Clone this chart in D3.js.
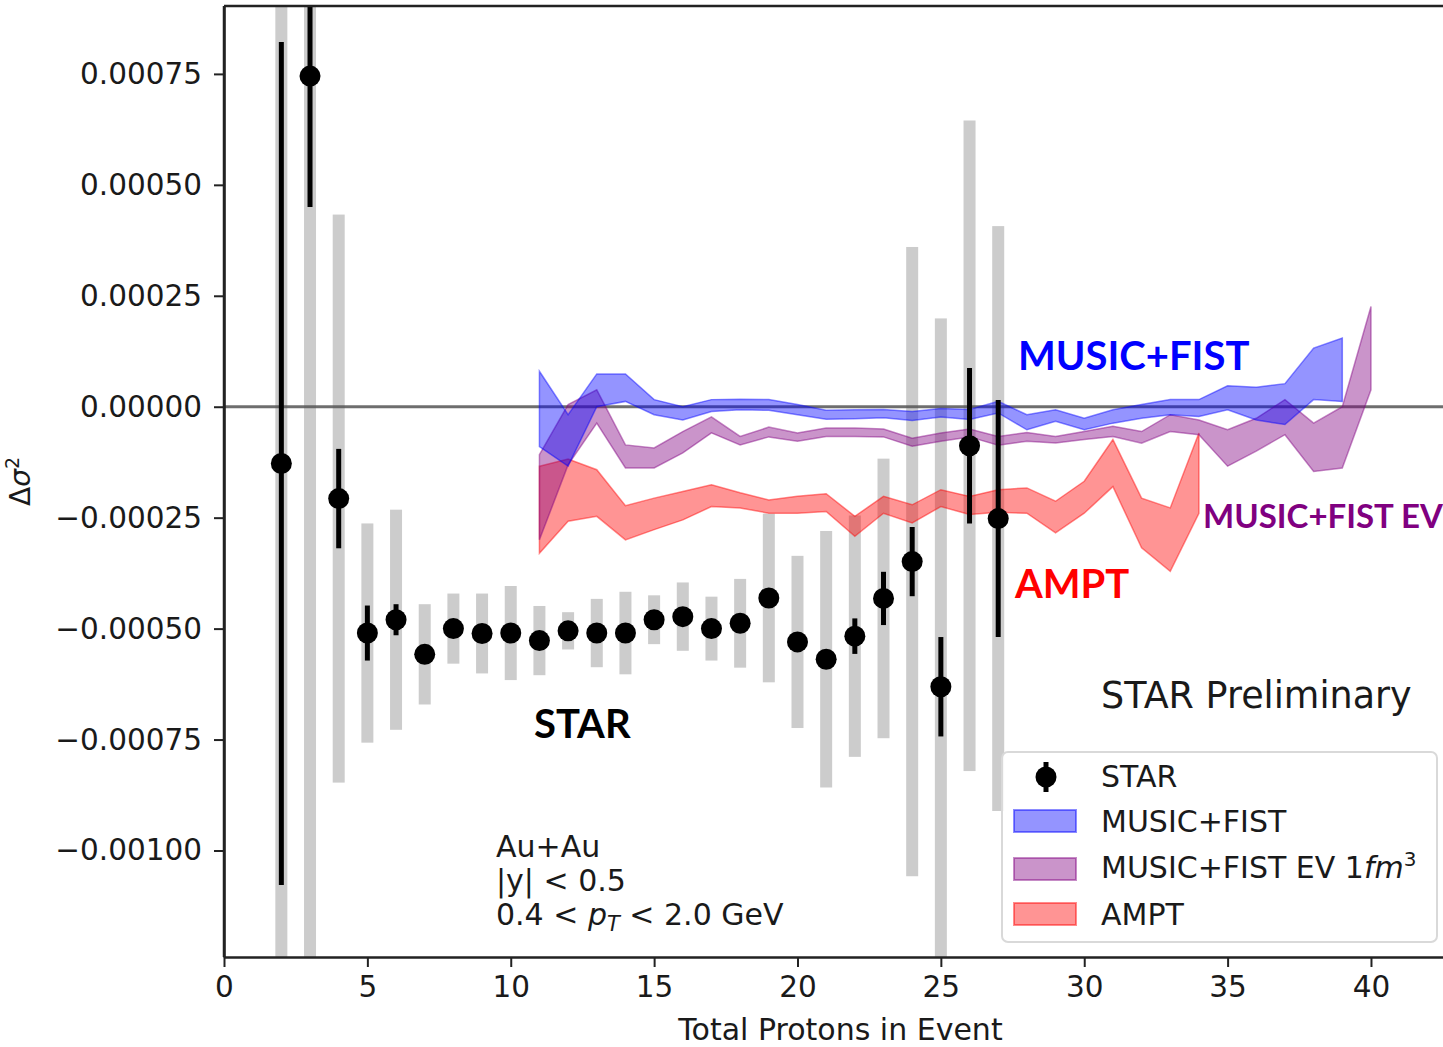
<!DOCTYPE html>
<html>
<head>
<meta charset="utf-8">
<script src="https://cdn.jsdelivr.net/npm/d3@7"></script>
<style>
  body { margin: 0; background: #fff; }
  svg { display: block; }
</style>
</head>
<body>
<svg id="chart" width="1443" height="1047"></svg>
<script>
// STAR data points
var starN    = [2, 3, 4, 5, 6, 7, 8, 9, 10, 11, 12, 13, 14, 15, 16, 17, 18, 19, 20, 21, 22, 23, 24, 25, 26, 27];
var starVal  = [-0.000128, 0.000745, -0.000207, -0.000510, -0.000480, -0.000558, -0.000500, -0.000511, -0.000510, -0.000527,
                -0.000505, -0.000510, -0.000510, -0.000480, -0.000473, -0.000500, -0.000488, -0.000431, -0.000530, -0.000569,
                -0.000517, -0.000432, -0.000349, -0.000631, -0.000088, -0.000252];
var starStat = [0.00095, 0.000295, 0.000112, 0.000062, 0.000035, 0.00001, 0.00001, 0.00001, 0.00001, 0.00001,
                0.00001, 0.00001, 0.00001, 0.00001, 0.00001, 0.00001, 0.00001, 0.00001, 0.00001, 0.000012,
                0.00004, 0.00006, 0.000078, 0.000112, 0.000175, 0.000267];
var starSys  = [0.0013, 0.0021, 0.00064, 0.000247, 0.000248, 0.000113, 0.000079, 0.00009, 0.000106, 0.000078,
                0.000042, 0.000077, 0.000093, 0.000055, 0.000077, 0.000072, 0.0001, 0.00019, 0.000194, 0.000289,
                0.000272, 0.000315, 0.000709, 0.00083, 0.000733, 0.000659];

// MUSIC+FIST band
var musicN  = [11, 12, 13, 14, 15, 16, 17, 18, 19, 20, 21, 22, 23, 24, 25, 26, 27, 28, 29, 30, 31, 32, 33, 34, 35, 36, 37, 38, 39];
var musicHi = [0.00008, -0.000018, 0.000074, 0.000074, 0.000016, 0.0, 0.000016, 0.000017, 0.000016, 0.000005,
               -0.000008, -0.000007, -0.000006, -0.000011, -0.000004, -0.000006, 0.000012, -0.000018, -0.000007, -0.000026,
               -0.000007, 0.000005, 0.000016, 0.000016, 0.000047, 0.000044, 0.000052, 0.000132, 0.000155];
var musicLo = [-0.00009, -0.000134, 0.0, 0.000012, -0.000018, -0.00003, -0.000011, -0.000007, -0.000008, -0.000018,
               -0.000028, -0.000027, -0.000025, -0.000031, -0.000023, -0.000029, -0.000014, -0.000052, -0.000033, -0.000052,
               -0.000037, -0.000026, -0.000018, -0.000022, -0.000007, -0.00003, -0.00004, 0.000016, 0.000012];

// MUSIC+FIST EV 1fm^3 band
var evN  = [11, 12, 13, 14, 15, 16, 17, 18, 19, 20, 21, 22, 23, 24, 25, 26, 27, 28, 29, 30, 31, 32, 33, 34, 35, 36, 37, 38, 39, 40];
var evHi = [-0.000108, 0.000005, 0.000038, -0.000086, -0.000093, -0.000056, -0.000023, -0.000067, -0.000046, -0.000059,
            -0.000048, -0.000048, -0.00005, -0.000071, -0.000059, -0.00005, -0.000067, -0.000058, -0.000067, -0.000056,
            -0.000044, -0.000056, -0.000018, -0.00003, -0.000052, -0.000026, 0.000016, -0.000037, 0.0, 0.000226];
var evLo = [-0.0003, -0.000131, -0.000037, -0.000138, -0.000138, -0.000104, -0.000059, -0.000086, -0.000068, -0.000078,
            -0.000067, -0.000067, -0.000068, -0.000089, -0.000078, -0.000068, -0.000087, -0.000078, -0.000082, -0.000074,
            -0.000067, -0.000082, -0.000056, -0.000063, -0.000134, -0.0001, -0.000063, -0.000146, -0.000138, 0.000038];

// AMPT band
var amptN  = [11, 12, 13, 14, 15, 16, 17, 18, 19, 20, 21, 22, 23, 24, 25, 26, 27, 28, 29, 30, 31, 32, 33, 34];
var amptHi = [-0.000134, -0.000118, -0.000142, -0.000223, -0.000206, -0.000191, -0.000176, -0.000194, -0.00021, -0.000202,
              -0.000196, -0.000247, -0.000202, -0.000221, -0.000187, -0.000202, -0.000187, -0.000183, -0.000213, -0.000168,
              -0.000074, -0.000206, -0.000228, -0.000059];
var amptLo = [-0.00033, -0.000258, -0.000247, -0.0003, -0.000277, -0.000255, -0.000225, -0.000228, -0.00024, -0.00024,
              -0.000236, -0.000292, -0.00024, -0.000262, -0.000225, -0.000243, -0.000238, -0.00024, -0.000284, -0.00024,
              -0.00018, -0.000318, -0.000371, -0.00024];

var xTicks = [0, 5, 10, 15, 20, 25, 30, 35, 40];
var yTicks = [0.00075, 0.0005, 0.00025, 0, -0.00025, -0.0005, -0.00075, -0.001];

var bands = [
	{ name: "AMPT", n: amptN, lo: amptLo, hi: amptHi, color: "#ff0000" },
	{ name: "MUSIC+FIST EV", n: evN, lo: evLo, hi: evHi, color: "#800080" },
	{ name: "MUSIC+FIST", n: musicN, lo: musicLo, hi: musicHi, color: "#0000ff" }
];

// plot box (careful: "top" is a reserved window property)
var pLeft = 224, pRight = 1457, pTop = 6, pBottom = 957;
var tickFont = "DejaVu Sans, sans-serif";

var svg = d3.select("#chart");
svg.append("rect").attr("width", 1443).attr("height", 1047).attr("fill", "white");

var x = d3.scaleLinear().domain([0, 43]).range([pLeft, pRight]);
var y = d3.scaleLinear().domain([-0.00124, 0.000903]).range([pBottom, pTop]);

svg.append("clipPath").attr("id", "plotclip")
	.append("rect").attr("x", pLeft).attr("y", pTop).attr("width", pRight - pLeft).attr("height", pBottom - pTop);

var plot = svg.append("g").attr("clip-path", "url(#plotclip)");

var starData = starN.map(function(n, i) {
	return { n: n, v: starVal[i], stat: starStat[i], sys: starSys[i] };
});

// systematic error boxes
plot.selectAll(".sys").data(starData).enter().append("rect")
	.attr("class", "sys")
	.attr("x", function(d) { return x(d.n) - 6; })
	.attr("width", 12)
	.attr("y", function(d) { return y(d.v + d.sys); })
	.attr("height", function(d) { return y(d.v - d.sys) - y(d.v + d.sys); })
	.attr("fill", "#cccccc");

// zero line
plot.append("line")
	.attr("x1", pLeft).attr("x2", pRight)
	.attr("y1", y(0)).attr("y2", y(0))
	.style("stroke", "#555").style("stroke-width", 3).style("stroke-opacity", 0.85);

// model bands
bands.forEach(function(b) {
	var pts = b.n.map(function(n, i) { return { n: n, lo: b.lo[i], hi: b.hi[i] }; });
	var area = d3.area()
		.x(function(d) { return x(d.n); })
		.y0(function(d) { return y(d.lo); })
		.y1(function(d) { return y(d.hi); });
	plot.append("path").datum(pts)
		.attr("d", area)
		.style("fill", b.color).style("fill-opacity", 0.42)
		.style("stroke", b.color).style("stroke-opacity", 0.45).style("stroke-width", 1.5);
});

// statistical error bars + markers
plot.selectAll(".stat").data(starData).enter().append("line")
	.attr("class", "stat")
	.attr("x1", function(d) { return x(d.n); })
	.attr("x2", function(d) { return x(d.n); })
	.attr("y1", function(d) { return y(d.v + d.stat); })
	.attr("y2", function(d) { return y(d.v - d.stat); })
	.style("stroke", "black").style("stroke-width", 5);

plot.selectAll(".pt").data(starData).enter().append("circle")
	.attr("class", "pt")
	.attr("cx", function(d) { return x(d.n); })
	.attr("cy", function(d) { return y(d.v); })
	.attr("r", 10.5)
	.attr("fill", "black");

// axes
var xAxis = svg.append("g")
	.attr("transform", "translate(0," + pBottom + ")")
	.call(d3.axisBottom(x).tickValues(xTicks).tickSize(10).tickPadding(9).tickSizeOuter(0));
var yAxis = svg.append("g")
	.attr("transform", "translate(" + pLeft + ",0)")
	.call(d3.axisLeft(y).tickValues(yTicks).tickSize(10).tickPadding(12).tickSizeOuter(0).tickFormat(d3.format(".5f")));

[xAxis, yAxis].forEach(function(a) {
	a.selectAll("text").style("font-family", tickFont).style("font-size", "29.5px").style("fill", "#1a1a1a");
	a.selectAll("line").style("stroke", "#222").style("stroke-width", 2);
	a.select(".domain").style("stroke", "#222").style("stroke-width", 2.5);
});

// top and left spines
svg.append("line").attr("x1", pLeft).attr("x2", pRight).attr("y1", pTop).attr("y2", pTop)
	.style("stroke", "#222").style("stroke-width", 2.5);
svg.append("line").attr("x1", pLeft).attr("x2", pLeft).attr("y1", pTop).attr("y2", pBottom)
	.style("stroke", "#222").style("stroke-width", 2.5);

// axis labels
svg.append("text")
	.attr("x", (pLeft + pRight) / 2).attr("y", 1040)
	.attr("text-anchor", "middle")
	.style("font-family", tickFont).style("font-size", "30px").style("fill", "#1a1a1a")
	.text("Total Protons in Event");

var ylab = svg.append("text")
	.attr("transform", "translate(30," + ((pTop + pBottom) / 2) + ") rotate(-90)")
	.attr("text-anchor", "middle")
	.style("font-family", tickFont).style("font-size", "28px").style("fill", "#1a1a1a");
ylab.append("tspan").text("Δ");
ylab.append("tspan").style("font-style", "italic").text("σ");
ylab.append("tspan").attr("dy", -11).style("font-size", "19px").text("2");

// annotations
function label(txt, xx, yy, size, color, weight, family) {
	return svg.append("text").attr("x", xx).attr("y", yy)
		.style("font-family", family).style("font-size", size + "px")
		.style("font-weight", weight).style("fill", color).text(txt);
}
label("MUSIC+FIST", 1018, 370, 40, "#0000ff", "bold", "Lato, sans-serif");
label("MUSIC+FIST EV", 1203, 528, 33, "#800080", "bold", "Lato, sans-serif");
label("AMPT", 1015, 598, 40, "#ff0000", "bold", "Lato, sans-serif");
label("STAR", 534, 738, 40, "#000000", "bold", "Lato, sans-serif");
label("STAR Preliminary", 1101, 708, 36.5, "#1a1a1a", "normal", tickFont);

label("Au+Au", 496, 857, 30, "#1a1a1a", "normal", tickFont);
label("|y| < 0.5", 496, 891, 30, "#1a1a1a", "normal", tickFont);
var pt = label("0.4 < ", 496, 925, 30, "#1a1a1a", "normal", tickFont);
pt.append("tspan").style("font-style", "italic").text("p");
pt.append("tspan").attr("dy", 6).style("font-style", "italic").style("font-size", "21px").text("T");
pt.append("tspan").attr("dy", -6).text(" < 2.0 GeV");

// legend
var lg = svg.append("g");
lg.append("rect").attr("x", 1002).attr("y", 752).attr("width", 435).attr("height", 190)
	.attr("rx", 6).attr("ry", 6)
	.style("fill", "white").style("fill-opacity", 0.85)
	.style("stroke", "#d9d9d9").style("stroke-width", 2);

lg.append("line").attr("x1", 1046).attr("x2", 1046).attr("y1", 762).attr("y2", 792)
	.style("stroke", "black").style("stroke-width", 5);
lg.append("circle").attr("cx", 1046).attr("cy", 777).attr("r", 10.5).attr("fill", "black");

var legendRows = [
	{ text: "STAR", base: 787 },
	{ text: "MUSIC+FIST", base: 832, color: "#0000ff", sy: 810 },
	{ text: "MUSIC+FIST EV 1", base: 878, color: "#800080", sy: 858, fm: true },
	{ text: "AMPT", base: 925, color: "#ff0000", sy: 903 }
];
legendRows.forEach(function(r) {
	if (r.color) {
		lg.append("rect").attr("x", 1014).attr("y", r.sy).attr("width", 62).attr("height", 22)
			.style("fill", r.color).style("fill-opacity", 0.42)
			.style("stroke", r.color).style("stroke-opacity", 0.45).style("stroke-width", 2);
	}
	var t = lg.append("text").attr("x", 1101).attr("y", r.base)
		.style("font-family", tickFont).style("font-size", "30px").style("fill", "#1a1a1a")
		.text(r.text);
	if (r.fm) {
		t.append("tspan").style("font-style", "italic").text("fm");
		t.append("tspan").attr("dy", -12).style("font-size", "20px").text("3");
	}
});
</script>
</body>
</html>
